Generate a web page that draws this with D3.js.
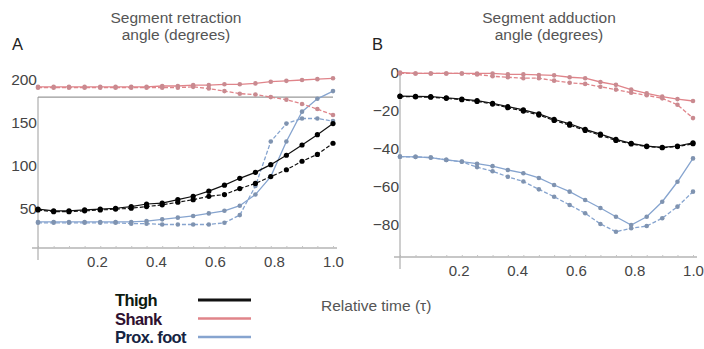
<!DOCTYPE html>
<html>
<head>
<meta charset="utf-8">
<script src="https://cdn.jsdelivr.net/npm/d3@7"></script>
<style>
	body { margin: 0; background: #fff; }
	svg { display: block; font-family: "Liberation Sans", Arial, sans-serif; }
	.tick text { fill: #444; }
</style>
</head>
<body>
<svg id="chart" width="704" height="349"></svg>
<script>
// relative time (tau), 20 samples per stride
const time = [0, 0.053, 0.105, 0.158, 0.211, 0.263, 0.316, 0.368, 0.421, 0.474,
	0.526, 0.579, 0.632, 0.684, 0.737, 0.789, 0.842, 0.895, 0.947, 1.0];

// A: segment retraction angle (degrees)
const retractionThigh = [49, 47, 47, 48, 49, 50, 52, 55, 56, 60, 64, 70, 77, 85, 92, 101, 112, 124, 136, 149];
const retractionThighDashed = [48, 46, 46, 47, 48, 49, 50, 52, 54, 57, 60, 64, 66, 73, 79, 87, 95, 105, 113, 126];
const retractionShank = [192, 192, 192, 192, 192, 192, 192, 192, 193, 193, 194, 194, 195, 195, 196, 198, 199, 200, 201, 202];
const retractionShankDashed = [191, 191, 191, 191, 191, 191, 191, 191, 191, 191, 192, 190, 187, 184, 183, 180, 177, 172, 166, 159];
const retractionFoot = [34, 34, 34, 34, 34, 34, 34, 35, 37, 39, 41, 44, 47, 53, 66, 87, 128, 163, 178, 187];
const retractionFootDashed = [33, 33, 33, 33, 33, 33, 32, 32, 31, 31, 31, 31, 33, 42, 76, 128, 149, 155, 155, 152];
const retractionRef = 180;

// B: segment adduction angle (degrees)
const adductionThigh = [-12.4, -12.6, -12.7, -13.3, -14, -14.8, -16.2, -18, -19.7, -21.8, -24.6, -27, -29.9, -32.4, -35.2, -37.3, -38.7, -39.4, -38.7, -37];
const adductionThighDashed = [-12.6, -12.8, -13, -13.6, -14.3, -15.2, -16.6, -18.5, -20.3, -22.4, -25.2, -27.7, -30.5, -33, -35.8, -37.6, -39, -39.6, -39, -37.5];
const adductionShank = [0, -0.5, -0.5, -0.5, -0.5, -0.5, -0.5, -1, -1, -1.3, -1.5, -2.5, -3, -5, -6.5, -9, -11, -12.7, -14, -15];
const adductionShankDashed = [-0.5, -0.5, -0.5, -0.5, -0.5, -1, -2, -2.5, -3, -3, -4.3, -5.4, -6, -7.5, -9, -10.6, -12, -13.6, -17, -24];
const adductionFoot = [-44.3, -44.4, -44.8, -46, -46.9, -48, -49.3, -51.3, -53, -55.5, -59.2, -62.7, -67.1, -71.3, -75.9, -80.3, -75.9, -68, -57.5, -45.2];
const adductionFootDashed = [-44.3, -44.4, -44.8, -46, -47, -49.8, -52, -54.9, -57.4, -61.5, -65.4, -69.7, -74.1, -79.7, -83.8, -82, -80.8, -76.7, -70.6, -62.7];

const xTicks = [0.2, 0.4, 0.6, 0.8, 1.0];
const retractionTicks = [50, 100, 150, 200];
const adductionTicks = [0, -20, -40, -60, -80];
const segments = ["Thigh", "Shank", "Prox. foot"];

const lineColor = { "Thigh": "#111", "Shank": "#e0848a", "Prox. foot": "#86a4cf" };
const dotColor = { "Thigh": "#000", "Shank": "#c98a90", "Prox. foot": "#7f93b0" };
const textColor = { "Thigh": "#0c1a10", "Shank": "#2e1030", "Prox. foot": "#152442" };

const svg = d3.select("#chart");

function drawPanel(p) {
	const g = svg.append("g");
	const x = d3.scaleLinear().domain([0, 1]).range([p.x0, p.x1]);
	const y = d3.scaleLinear().domain(p.yDomain).range(p.yRange);

	// title + panel letter
	g.append("text")
		.attr("x", p.titleX).attr("y", 23)
		.attr("text-anchor", "middle")
		.attr("font-size", 15.5).attr("fill", "#555")
		.text(p.title[0]);
	g.append("text")
		.attr("x", p.titleX).attr("y", 40)
		.attr("text-anchor", "middle")
		.attr("font-size", 15.5).attr("fill", "#555")
		.text(p.title[1]);
	g.append("text")
		.attr("x", p.letterX).attr("y", 50)
		.attr("font-size", 16.5).attr("fill", "#222")
		.text(p.letter);

	// x axis
	const xAxisG = g.append("g")
		.attr("transform", "translate(0," + p.axisY + ")")
		.call(d3.axisBottom(x).tickValues(xTicks).tickSize(0).tickPadding(p.xPad)
			.tickFormat(d3.format(".1f")));
	xAxisG.select(".domain").remove();
	xAxisG.selectAll("text").attr("font-size", 15).attr("font-family", "Liberation Sans, Arial, sans-serif");
	g.append("line")
		.attr("x1", p.x0 - 6).attr("x2", p.x1 + 4)
		.attr("y1", p.axisY).attr("y2", p.axisY)
		.attr("stroke", "#b4b4b4").attr("stroke-width", 1.3);
	g.append("g")
		.attr("transform", "translate(0," + p.axisY + ")")
		.call(d3.axisTop(x).tickValues(time).tickSize(2).tickFormat(""))
		.call(a => a.select(".domain").remove())
		.selectAll("line").attr("stroke", "#c4c4c4");

	// y axis
	const yAxisG = g.append("g")
		.attr("transform", "translate(" + p.x0 + ",0)")
		.call(d3.axisLeft(y).tickValues(p.yTicks).tickSize(0).tickPadding(1)
			.tickFormat(d => d3.format("")(d).replace("-", "\u2212")));
	yAxisG.select(".domain").remove();
	yAxisG.selectAll("text").attr("font-size", 15.5).attr("font-family", "Liberation Sans, Arial, sans-serif");
	g.append("line")
		.attr("x1", p.x0).attr("x2", p.x0)
		.attr("y1", y(p.yAxisTop)).attr("y2", p.axisY + 12)
		.attr("stroke", "#b4b4b4").attr("stroke-width", 1.3);

	if (p.ref !== undefined) {
		g.append("line")
			.attr("x1", p.x0).attr("x2", p.x1)
			.attr("y1", y(p.ref)).attr("y2", y(p.ref))
			.attr("stroke", "#999").attr("stroke-width", 1.3);
	}

	const line = d3.line().x((d, i) => x(time[i])).y(d => y(d));
	for (const s of p.series) {
		g.append("path")
			.datum(s.values)
			.attr("d", line)
			.attr("fill", "none")
			.attr("stroke", lineColor[s.segment])
			.attr("stroke-width", s.segment == "Thigh" ? 1.2 : 1.3)
			.attr("stroke-dasharray", s.dashed ? "4,2" : null);
		g.append("g").selectAll("circle")
			.data(s.values)
			.join("circle")
			.attr("cx", (d, i) => x(time[i]))
			.attr("cy", d => y(d))
			.attr("r", s.segment == "Thigh" ? 2.6 : 2.3)
			.attr("fill", dotColor[s.segment]);
	}
}

drawPanel({
	letter: "A", letterX: 12,
	title: ["Segment retraction", "angle (degrees)"], titleX: 176,
	x0: 38, x1: 333, axisY: 248, xPad: 8,
	yDomain: [0, 200], yRange: [251, 80], yTicks: retractionTicks, yAxisTop: retractionRef,
	ref: retractionRef,
	series: [
		{ segment: "Prox. foot", values: retractionFoot },
		{ segment: "Prox. foot", values: retractionFootDashed, dashed: true },
		{ segment: "Shank", values: retractionShank },
		{ segment: "Shank", values: retractionShankDashed, dashed: true },
		{ segment: "Thigh", values: retractionThigh },
		{ segment: "Thigh", values: retractionThighDashed, dashed: true },
	]
});

drawPanel({
	letter: "B", letterX: 372,
	title: ["Segment adduction", "angle (degrees)"], titleX: 549,
	x0: 400, x1: 693, axisY: 257, xPad: 8,
	yDomain: [-80, 0], yRange: [224.5, 72.5], yTicks: adductionTicks, yAxisTop: 0,
	series: [
		{ segment: "Prox. foot", values: adductionFoot },
		{ segment: "Prox. foot", values: adductionFootDashed, dashed: true },
		{ segment: "Shank", values: adductionShank },
		{ segment: "Shank", values: adductionShankDashed, dashed: true },
		{ segment: "Thigh", values: adductionThigh },
		{ segment: "Thigh", values: adductionThighDashed, dashed: true },
	]
});

// legend
const legend = svg.append("g");
segments.forEach((s, i) => {
	legend.append("text")
		.attr("x", 115).attr("y", 306 + i * 18.5)
		.attr("font-size", 16.5).attr("font-weight", "bold")
		.attr("letter-spacing", -0.6)
		.attr("fill", textColor[s])
		.text(s);
	legend.append("line")
		.attr("x1", 198).attr("x2", 251)
		.attr("y1", 300 + i * 18.5).attr("y2", 300 + i * 18.5)
		.attr("stroke", lineColor[s])
		.attr("stroke-width", s == "Thigh" ? 3 : 2.6);
});
svg.append("text")
	.attr("x", 321).attr("y", 311)
	.attr("font-size", 15.5).attr("fill", "#555")
	.text("Relative time (\u03c4)");
</script>
</body>
</html>
